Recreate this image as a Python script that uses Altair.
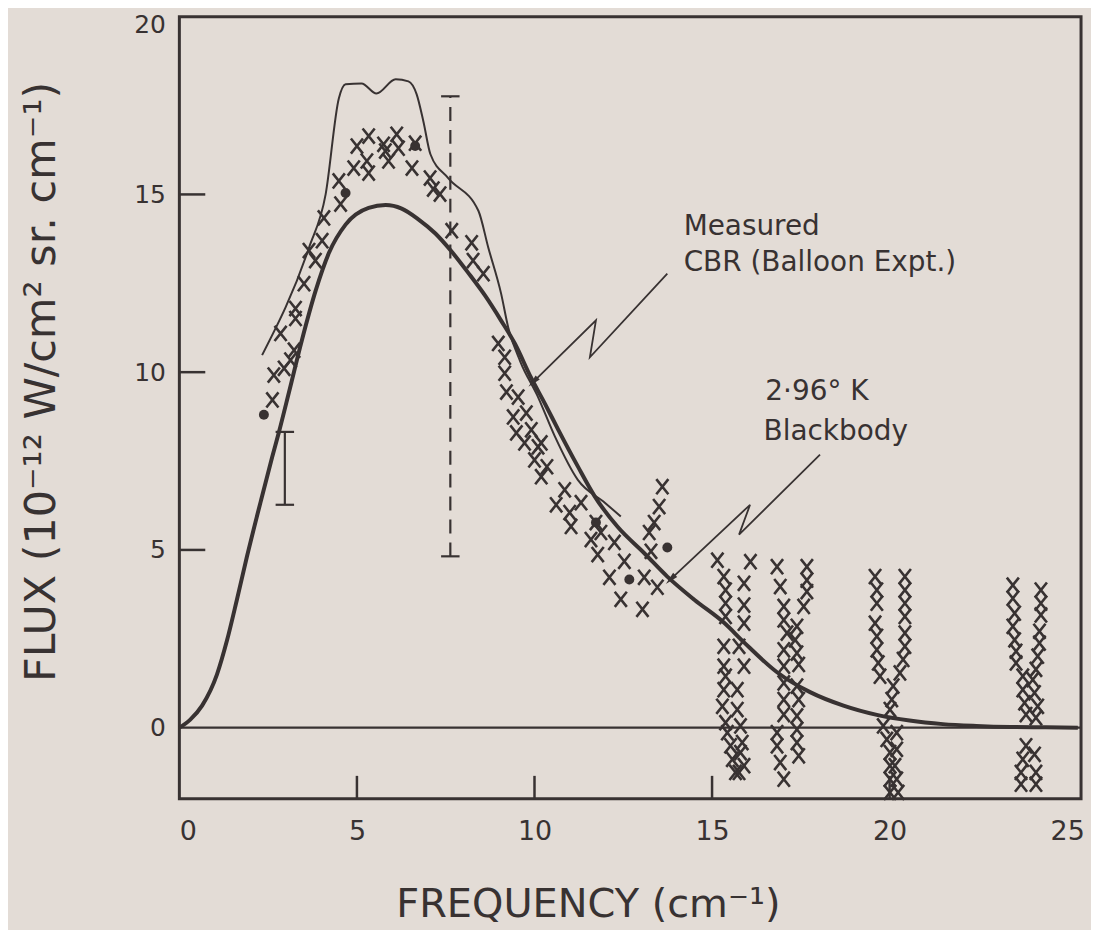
import altair as alt
import pandas as pd

INK = "#383232"
BG = "#e3dcd6"
FONT = "DejaVu Sans"

# 2.96 K blackbody curve
bb_x = [0, 0.3, 0.64, 1.06, 1.34, 1.62, 1.9, 2.3, 2.61, 2.8, 3.09, 3.45, 3.84, 4.21, 4.68,
        5.33, 5.81, 6.26, 6.73, 7.21, 7.66, 8.13, 8.61, 9.06, 9.45, 9.9, 10.3, 10.66, 11.22,
        11.7, 12.34, 13.1, 13.74, 14.5, 15.34, 15.9, 16.83, 17.76, 18.7, 19.64, 20.56, 21.5,
        22.44, 23.4, 24.4, 25.3]
bb_y = [0, 0.22, 0.62, 1.5, 2.45, 3.6, 4.8, 6.4, 7.6, 8.3, 9.45, 10.9, 12.3, 13.35, 14.15,
        14.62, 14.7, 14.6, 14.3, 13.9, 13.4, 12.8, 12.15, 11.45, 10.8, 9.85, 9.1, 8.4, 7.35,
        6.5, 5.65, 4.9, 4.25, 3.6, 2.95, 2.4, 1.56, 1.0, 0.62, 0.36, 0.2, 0.1,
        0.05, 0.02, 0.01, 0.0]

# Measured CBR (balloon experiment) thin curve
cbr_x = [2.33, 3.65, 4.12, 4.49, 4.68, 5.13, 5.55, 6.09, 6.45, 6.68, 6.87, 7.07, 7.57, 8.42,
         8.70, 9.06, 9.26, 9.6, 10.10, 10.57, 11.22, 11.98, 12.43]
cbr_y = [10.48, 13.50, 15.01, 17.70, 18.10, 18.12, 17.84, 18.24, 18.18, 17.82, 17.06, 16.13,
         15.46, 14.54, 13.50, 12.21, 11.26, 10.3, 9.30, 8.20, 6.97, 6.33, 5.94]

# individual measurements (x symbols)
cross_x = [2.62, 2.66, 2.95, 2.85, 3.13, 3.23, 3.27, 3.27, 3.51, 3.65, 3.83, 4.02, 4.07, 4.54,
           4.49, 4.91, 5.0, 5.33, 5.28, 5.33, 5.75, 5.89, 6.12, 6.17, 5.8, 6.55, 6.64, 7.06,
           7.15, 7.34, 7.67, 8.23, 8.27, 8.56,
           8.98, 9.16, 9.16, 9.21, 9.54, 9.40, 9.77, 9.49, 9.91, 10.1, 10.35, 9.72, 10.19,
           10.0, 10.19, 10.85, 10.61, 10.99, 11.31, 11.03, 11.73, 11.59, 11.87, 11.78, 12.25,
           12.53, 12.11, 12.43, 13.04, 13.09, 13.46, 13.28, 13.23, 13.37, 13.51, 13.6,
           15.15, 15.33, 15.38, 15.38, 15.38, 15.33, 15.33, 15.38, 15.33, 15.29, 15.38, 15.43,
           15.52, 15.57, 15.66,
           16.08, 15.9, 15.9, 15.9, 15.76, 15.9, 15.71, 15.71, 15.8, 15.85, 15.8, 15.9, 15.76,
           16.83, 16.92, 17.02, 17.02, 17.11, 17.02, 17.02, 17.02, 17.02, 17.02, 16.83, 16.83,
           16.92, 17.02,
           17.67, 17.67, 17.67, 17.58, 17.39, 17.34, 17.39, 17.44, 17.39, 17.44, 17.39, 17.39,
           17.39, 17.44,
           19.59, 19.64, 19.64, 19.59, 19.64, 19.64, 19.68, 19.73, 19.82, 19.92, 20.01, 20.01,
           20.01, 20.01,
           20.43, 20.43, 20.43, 20.43, 20.43, 20.43, 20.38, 20.29, 20.1, 20.06, 20.01, 20.2,
           20.2, 20.15, 20.2, 20.24,
           23.47, 23.47, 23.52, 23.47, 23.52, 23.56, 23.56, 23.75, 23.75, 23.8, 23.84, 23.84,
           23.75, 23.7, 23.7,
           24.26, 24.26, 24.26, 24.22, 24.22, 24.17, 24.12, 24.03, 24.08, 24.17, 24.12, 24.08,
           24.12, 24.12]
cross_y = [9.22, 9.92, 10.11, 11.09, 10.34, 10.62, 11.51, 11.79, 12.49, 13.42, 13.14, 13.70,
           14.34, 14.73, 15.38, 15.74, 16.36, 16.64, 15.94, 15.60, 16.41, 15.94, 16.69, 16.30,
           16.22, 15.74, 16.44, 15.46, 15.15, 15.01, 13.98, 13.64, 13.14, 12.77,
           10.81, 10.42, 9.97, 9.44, 9.30, 8.74, 8.85, 8.29, 8.38, 7.90, 7.34, 8.01, 8.01,
           7.53, 7.06, 6.69, 6.27, 6.05, 6.33, 5.66, 5.77, 5.29, 5.49, 4.87, 5.21,
           4.68, 4.23, 3.61, 3.33, 4.23, 3.95, 4.96, 5.49, 5.77, 6.22, 6.78,
           4.71, 4.25, 3.87, 3.50, 3.13, 2.29, 1.73, 1.45, 1.07, 0.60, 0.14, -0.14,
           -0.51, -0.89, -1.26,
           4.67, 4.06, 3.45, 2.94, 2.29, 1.73, 1.07, 0.51, 0.05, -0.42, -0.70, -1.07, -1.26,
           4.53, 3.97, 3.41, 3.03, 2.66, 2.19, 1.73, 1.26, 0.79, 0.37, -0.14, -0.51,
           -0.98, -1.45,
           4.53, 4.15, 3.83, 3.41, 2.85, 2.47, 2.10, 1.78, 1.17, 0.79, 0.33, -0.05,
           -0.42, -0.79,
           4.25, 3.87, 3.50, 2.94, 2.57, 2.19, 1.82, 1.45, 0.05, -0.33, -0.70, -1.07,
           -1.45, -1.82,
           4.25, 3.87, 3.50, 3.13, 2.66, 2.29, 1.92, 1.54, 1.17, 0.79, 0.51, -0.14,
           -0.61, -1.07, -1.45, -1.82,
           4.01, 3.64, 3.22, 2.85, 2.47, 2.15, 1.82, 1.45, 1.07, 0.70, 0.37, -0.51,
           -0.89, -1.26, -1.59,
           3.87, 3.50, 3.17, 2.71, 2.38, 2.01, 1.64, 1.35, 0.98, 0.60, 0.28, -0.75,
           -1.26, -1.59]

# filled dots
dot_x = [2.38, 4.68, 6.64, 11.73, 12.67, 13.74]
dot_y = [8.80, 15.04, 16.36, 5.77, 4.17, 5.07]

# error bars
err_solid = {"x": [2.97], "lo": [6.27], "hi": [8.32]}
err_dash = {"x": [7.63], "lo": [4.82], "hi": [17.76]}
cap_half = 0.26

# annotation pointers (zig-zag arrows)
arr1_x = [13.74, 11.56, 11.73, 9.96]
arr1_y = [12.77, 10.42, 11.46, 9.72]
arr2_x = [18.04, 15.76, 16.07, 13.83]
arr2_y = [7.68, 5.43, 6.27, 4.17]

labels = ["Measured", "CBR (Balloon  Expt.)", "2·96° K", "Blackbody"]
label_x = [14.2, 14.2, 16.5, 16.45]
label_y = [13.85, 12.85, 9.22, 8.1]

x_ticks = [5, 10, 15, 20]
y_ticks = [5, 10, 15]

XMAX = 25.39
xs = alt.Scale(domain=[0, XMAX], nice=False, zero=False)
ys = alt.Scale(domain=[-2, 20], nice=False, zero=False)

xaxis = alt.Axis(values=[0, 5, 10, 15, 20, 25], title="FREQUENCY (cm⁻¹)", ticks=False,
                 domain=False, grid=False, labelFontSize=27, labelPadding=20,
                 labelFont=FONT, labelColor=INK, titleFont=FONT, titleFontSize=40,
                 titleColor=INK, titleFontWeight="normal", titleX=410, titleY=106,
                 titleBaseline="middle", titleAlign="center")
yaxis = alt.Axis(values=[0, 5, 10, 15, 20], title="FLUX (10⁻¹² W/cm² sr. cm⁻¹)", ticks=False,
                 domain=False, grid=False, labelFontSize=25, labelPadding=14,
                 labelOffset={"expr": "datum.value == 20 ? 8 : 0"},
                 labelFont=FONT, labelColor=INK, titleFont=FONT, titleFontSize=43,
                 titleColor=INK, titleFontWeight="normal", titleX=-138, titleY=366,
                 titleBaseline="middle", titleAlign="center", titleAngle=-90)

X = lambda f="x": alt.X(f"{f}:Q", scale=xs, axis=xaxis)
Y = lambda f="y": alt.Y(f"{f}:Q", scale=ys, axis=yaxis)

bb = pd.DataFrame({"x": bb_x, "y": bb_y})
cbr = pd.DataFrame({"x": cbr_x, "y": cbr_y})
crosses = pd.DataFrame({"x": cross_x, "y": cross_y})
dots = pd.DataFrame({"x": dot_x, "y": dot_y})

base_bb = alt.Chart(bb).mark_line(color=INK, strokeWidth=4, interpolate="monotone").encode(x=X(), y=Y())
base_cbr = alt.Chart(cbr).mark_line(color=INK, strokeWidth=2, interpolate="monotone").encode(x=X(), y=Y())

zero = alt.Chart(pd.DataFrame({"y": [0]})).mark_rule(color=INK, strokeWidth=2.2).encode(y=Y())

yt = alt.Chart(pd.DataFrame({"y": y_ticks})).mark_rule(color=INK, strokeWidth=2.5).encode(
    y=Y(), x=alt.value(0), x2=alt.value(26))
xt = alt.Chart(pd.DataFrame({"x": x_ticks})).mark_rule(color=INK, strokeWidth=2.5).encode(
    x=X(), y=alt.value(785), y2=alt.value(762))

def errbar(d, dash=None):
    df = pd.DataFrame({"x": d["x"], "lo": d["lo"], "hi": d["hi"]})
    kw = {"strokeDash": dash} if dash else {}
    v = alt.Chart(df).mark_rule(color=INK, strokeWidth=2.2, **kw).encode(
        x=X(), y=Y("lo"), y2="hi")
    caps = pd.DataFrame({"xa": [d["x"][0] - cap_half] * 2, "xb": [d["x"][0] + cap_half] * 2,
                         "y": [d["lo"][0], d["hi"][0]]})
    c = alt.Chart(caps).mark_rule(color=INK, strokeWidth=2.2).encode(
        x=X("xa"), x2="xb", y=Y())
    return v + c

eb1 = errbar(err_solid)
eb2 = errbar(err_dash, dash=[14, 9])

xpath = "M-0.8,-1L0.8,1M-0.8,1L0.8,-1"
cross_layer = alt.Chart(crosses).mark_point(shape=xpath, size=230, filled=False,
                                            stroke=INK, strokeWidth=2.6, opacity=1).encode(
    x=X(), y=Y())
dot_layer = alt.Chart(dots).mark_circle(size=100, color=INK, opacity=1).encode(x=X(), y=Y())

def arrow(ax, ay, ang):
    df = pd.DataFrame({"x": ax, "y": ay, "o": list(range(len(ax)))})
    ln = alt.Chart(df).mark_line(color=INK, strokeWidth=1.8).encode(
        x=X(), y=Y(), order="o:Q")
    head = alt.Chart(df.tail(1)).mark_point(shape="M0,-1L0.45,1L-0.45,1Z", size=170,
                                           filled=True, color=INK, opacity=1,
                                           angle=ang).encode(x=X(), y=Y())
    return ln + head

a1 = arrow(arr1_x, arr1_y, 225)
a2 = arrow(arr2_x, arr2_y, 226)

txt = alt.Chart(pd.DataFrame({"x": label_x, "y": label_y, "t": labels})).mark_text(
    align="left", baseline="alphabetic", font=FONT, fontSize=28, color=INK).encode(
    x=X(), y=Y(), text="t:N")

chart = alt.layer(zero, yt, xt, eb1, eb2, base_bb, base_cbr, cross_layer, dot_layer,
                  a1, a2, txt).properties(
    width=905, height=785,
    autosize=alt.AutoSizeParams(type="none"),
    padding={"left": 172, "top": 7, "right": 10, "bottom": 130},
    background=BG,
).configure_view(stroke=INK, strokeWidth=3)

chart.save("out.html", embed_options={"renderer": "svg", "actions": False})
